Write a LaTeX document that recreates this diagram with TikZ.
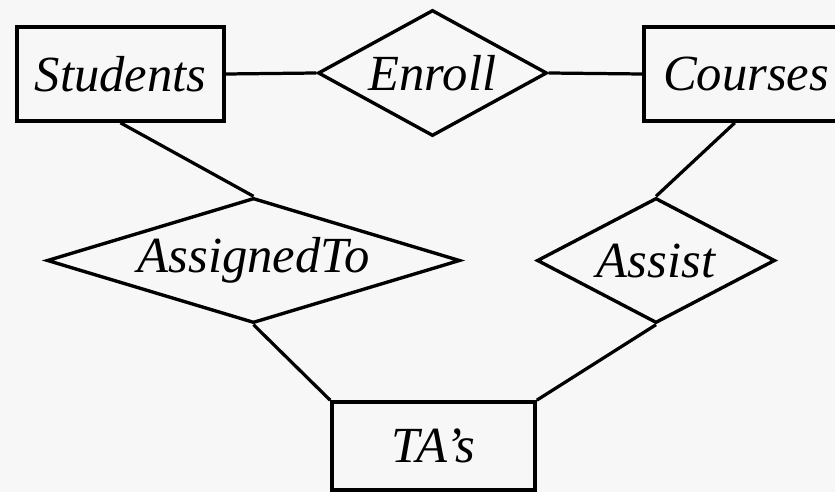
\documentclass[tikz,border=0pt]{standalone}
\usepackage{fontspec}
\setmainfont{Liberation Serif}
\usetikzlibrary{shapes.geometric, positioning}
\definecolor{paper}{HTML}{F7F7F7}

\begin{document}
\begin{tikzpicture}[
    x=0.025cm, y=-0.025cm,
    every node/.style={font=\fontsize{36}{44}\selectfont\itshape},
    entity/.style={draw, line width=2.6pt, inner sep=0pt, minimum height=2.35cm},
    rel/.style={draw, diamond, line width=2.4pt, inner sep=0pt},
    link/.style={line width=2.3pt}
]
    \fill[paper] (0,0) rectangle (835,492);
    \clip (0,0) rectangle (835,492);

    % entity sets
    \node[entity, minimum width=5.175cm] (students) at (120.5, 74) {Students};
    \node[entity, minimum width=5.1cm] (courses) at (746, 74) {Courses};
    \node[entity, minimum width=5.075cm, minimum height=2.2cm] (tas) at (433.5, 446) {TA's};

    % relationships
    \node[rel, shape aspect=1.8, minimum width=5.725cm, minimum height=3.15cm]
        (enroll) at (432.5, 73) {Enroll};
    \node[rel, shape aspect=3.3, minimum width=10.325cm, minimum height=3.125cm]
        (assigned) at (253.5, 260.5) {AssignedTo};
    \node[rel, shape aspect=1.9, minimum width=5.95cm, minimum height=3.125cm]
        (assist) at (656, 260.5) {Assist};

    \draw[link] (students.east) -- (enroll.west);
    \draw[link] (enroll.east) -- (courses.west);
    \draw[link] (students.south) -- (assigned.north);
    \draw[link] (courses.257) -- (assist.north);
    \draw[link] (assigned.south) -- (tas.north west);
    \draw[link] (assist.south) -- (tas.north east);
\end{tikzpicture}
\end{document}
